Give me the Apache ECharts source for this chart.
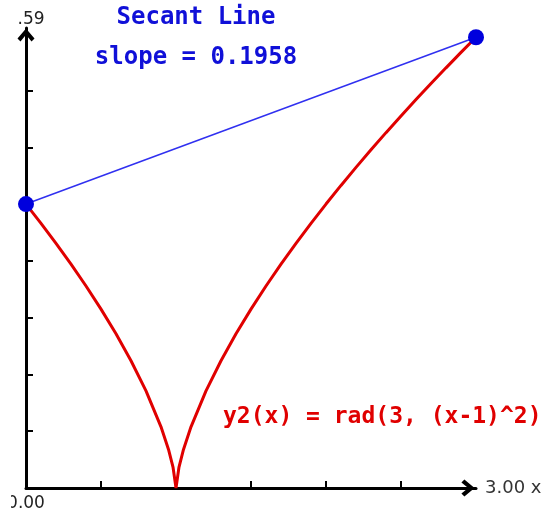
<!DOCTYPE html>
<html>
<head>
<meta charset="utf-8">
<script src="https://cdn.jsdelivr.net/npm/echarts@6/dist/echarts.min.js"></script>
<style>
  html, body { margin: 0; padding: 0; background: #fff; }
  #chart { width: 547px; height: 517px; }
</style>
</head>
<body>
<div id="chart"></div>
<script>
// Sampled points of y2(x) = rad(3, (x-1)^2)
const curveX = [0, 0.1, 0.2, 0.3, 0.4, 0.5, 0.6, 0.7, 0.8, 0.9, 0.95, 0.98, 1.0,
  1.02, 1.05, 1.1, 1.2, 1.3, 1.4, 1.5, 1.6, 1.7, 1.8, 1.9, 2.0,
  2.1, 2.2, 2.3, 2.4, 2.5, 2.6, 2.7, 2.8, 2.9, 3.0];
const curveY = [1.0, 0.9322, 0.8618, 0.7884, 0.7114, 0.6300, 0.5429, 0.4481, 0.3420, 0.2154, 0.1357, 0.0737, 0,
  0.0737, 0.1357, 0.2154, 0.3420, 0.4481, 0.5429, 0.6300, 0.7114, 0.7884, 0.8618, 0.9322, 1.0,
  1.0656, 1.1292, 1.1911, 1.2515, 1.3104, 1.3680, 1.4244, 1.4797, 1.5341, 1.5874];

// Secant endpoints
const secantX = [0, 3];
const secantY = [1.0, 1.5874];

// Tick positions
const xTicks = [0.5, 1.0, 1.5, 2.0, 2.5];
const yTicks = [0.2, 0.4, 0.6, 0.8, 1.0, 1.2, 1.4];
const xMinLabel = '0.00';
const xMaxLabel = '3.00 x';
const yMaxLabel = '.59';

const titleText = 'Secant Line';
const slopeText = 'slope = 0.1958';
const funcText = 'y2(x) = rad(3, (x-1)^2)';

const curveData = curveX.map((x, i) => [x, curveY[i]]);
const secantData = secantX.map((x, i) => [x, secantY[i]]);

// open chevron arrowhead for the axis ends
const chevron = 'path://M0,12 L10,0 L20,12 L16.5,15.5 L10,7.5 L3.5,15.5 Z';

const chart = echarts.init(document.getElementById('chart'));
chart.setOption({
  animation: false,
  grid: { left: 26, right: 71, top: 28, bottom: 29 },
  xAxis: {
    type: 'value', min: 0, max: 3,
    splitLine: { show: false },
    axisLine: { lineStyle: { color: '#000', width: 3 }, symbol: ['none', chevron], symbolSize: [17, 15], symbolOffset: [0, -8] },
    axisTick: { show: true, inside: true, length: 7, lineStyle: { color: '#000', width: 2 }, customValues: xTicks },
    axisLabel: {
      customValues: [0], formatter: () => xMinLabel,
      color: '#222', fontFamily: 'DejaVu Sans', fontSize: 17, margin: 7
    },
    name: xMaxLabel, nameLocation: 'end', nameGap: 9,
    nameTextStyle: { color: '#333', fontFamily: 'DejaVu Sans', fontSize: 18, verticalAlign: 'middle', align: 'left' }
  },
  yAxis: {
    type: 'value', min: 0, max: 1.62,
    splitLine: { show: false },
    axisLine: { lineStyle: { color: '#000', width: 3 }, symbol: ['none', chevron], symbolSize: [17, 15], symbolOffset: [0, -7] },
    axisTick: { show: true, inside: true, length: 7, lineStyle: { color: '#000', width: 2 }, customValues: yTicks },
    axisLabel: { show: false },
    name: yMaxLabel, nameLocation: 'end', nameGap: 0,
    nameTextStyle: { color: '#222', fontFamily: 'DejaVu Sans', fontSize: 17, padding: [0, 0, 0, 10] }
  },
  series: [
    {
      type: 'line', data: curveData, showSymbol: false, smooth: false,
      lineStyle: { color: '#e00000', width: 3 }, z: 3
    },
    {
      type: 'line', data: secantData, symbol: 'circle', symbolSize: 16, showSymbol: true,
      lineStyle: { color: '#3030f0', width: 1.5 },
      itemStyle: { color: '#0000dd' }, z: 4
    }
  ],
  graphic: [
    { type: 'rect', left: 0, top: 494, shape: { width: 11, height: 18 }, style: { fill: '#fff' }, z: 100 },
    { type: 'text', x: 196, y: 18, style: { text: titleText, fill: '#1010d8', font: 'bold 24px "DejaVu Sans Mono"', align: 'center', verticalAlign: 'middle' } },
    { type: 'text', x: 196, y: 58, style: { text: slopeText, fill: '#1010d8', font: 'bold 24px "DejaVu Sans Mono"', align: 'center', verticalAlign: 'middle' } },
    { type: 'text', x: 223, y: 417, style: { text: funcText, fill: '#e00000', font: 'bold 23px "DejaVu Sans Mono"', align: 'left', verticalAlign: 'middle' } }
  ]
});
</script>
</body>
</html>
